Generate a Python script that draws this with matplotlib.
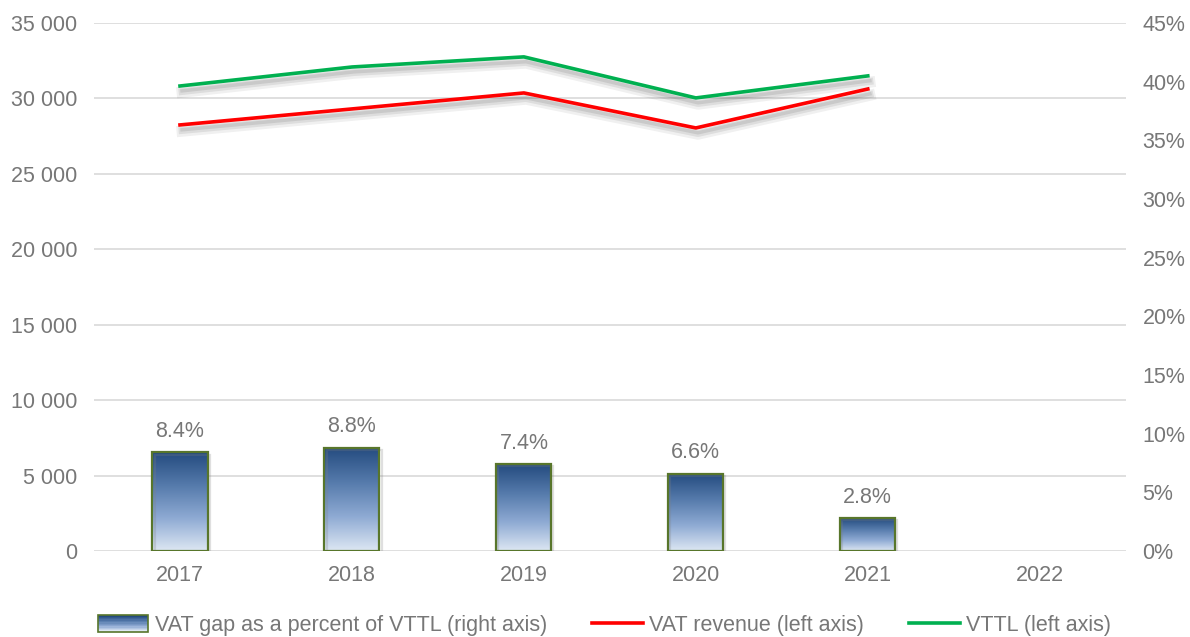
import numpy as np
import matplotlib.pyplot as plt
import matplotlib.patheffects as pe
from matplotlib.colors import LinearSegmentedColormap
from matplotlib.patches import Rectangle
from matplotlib.legend_handler import HandlerBase
from matplotlib.lines import Line2D
from matplotlib.ticker import FuncFormatter

plt.rcParams['font.family'] = ['Liberation Sans', 'DejaVu Sans']

years = ['2017', '2018', '2019', '2020', '2021', '2022']
vat_revenue = [28240, 29300, 30360, 28040, 30620]
vttl = [30820, 32080, 32750, 30030, 31490]
gap_pct = [8.4, 8.8, 7.4, 6.6, 2.8]

grey = '#777777'
edge = '#58762b'
cmap = LinearSegmentedColormap.from_list('bar', ['#dde7f3', '#8eaad3', '#557aab', '#244b7f'])


class GradientHandler(HandlerBase):
    def create_artists(self, legend, orig_handle, xdescent, ydescent, width, height, fontsize, trans):
        arts = []
        n = 12
        for i in range(n):
            r = Rectangle((-xdescent, -ydescent + height * i / n), width, height / n,
                          facecolor=cmap(i / (n - 1)), edgecolor='none', transform=trans)
            arts.append(r)
        arts.append(Rectangle((-xdescent, -ydescent), width, height, facecolor='none',
                              edgecolor=edge, linewidth=1.2, transform=trans))
        return arts


fig = plt.figure(figsize=(11.9, 6.37), dpi=100)
rect_ax = [0.079, 0.135, 0.867, 0.829]
ax = fig.add_axes(rect_ax)       # left axis: grid + ticks
ax2 = ax.twinx()                 # right axis: bars
ax3 = fig.add_axes(rect_ax, sharex=ax, sharey=ax)  # lines on top
ax3.axis('off')

x = np.arange(len(years))
ax.set_xlim(-0.5, len(years) - 0.5)
ax.set_ylim(0, 35000)
ax2.set_ylim(0, 45)

ax.set_yticks(np.arange(0, 35001, 5000))
ax.yaxis.set_major_formatter(FuncFormatter(lambda v, p: f'{int(v):,}'.replace(',', ' ')))
ax2.set_yticks(np.arange(0, 46, 5))
ax2.yaxis.set_major_formatter(FuncFormatter(lambda v, p: f'{int(v)}%'))
ax.grid(axis='y', color='#d9d9d9', linewidth=1.2)
ax.set_axisbelow(True)

for a in (ax, ax2):
    for s in a.spines.values():
        s.set_visible(False)
    a.tick_params(length=0, labelsize=15.5, colors=grey, pad=12)
ax.set_xticks(x)
ax.set_xticklabels(years)
ax.tick_params(axis='x', pad=10)

# gradient bars on the right axis
bw = 0.32
grad = np.linspace(0, 1, 256).reshape(-1, 1)
for i, v in enumerate(gap_pct):
    ax2.imshow(grad, cmap=cmap, origin='lower', aspect='auto',
               extent=[x[i] - bw / 2, x[i] + bw / 2, 0, v], zorder=2)
    rect = Rectangle((x[i] - bw / 2, 0), bw, v, facecolor='none', edgecolor=edge,
                     linewidth=1.6, zorder=3,
                     path_effects=[pe.SimpleLineShadow(offset=(1.5, -1.5), shadow_color='gray', alpha=0.25),
                                   pe.Normal()])
    ax2.add_patch(rect)
    ax2.text(x[i], v + 0.9, f'{v:.1f}%', ha='center', va='bottom', fontsize=15.5, color=grey)
ax2.set_xlim(-0.5, len(years) - 0.5)
ax2.set_ylim(0, 45)

shadow = [pe.SimpleLineShadow(offset=(1.5, -4.5), shadow_color='black', alpha=0.06, linewidth=8),
          pe.SimpleLineShadow(offset=(1.5, -4), shadow_color='black', alpha=0.08, linewidth=5),
          pe.SimpleLineShadow(offset=(1.5, -3.5), shadow_color='black', alpha=0.09, linewidth=2.5),
          pe.Normal()]
ax3.plot(x[:5], vat_revenue, color='#ff0000', linewidth=2.6, path_effects=shadow, zorder=4)
ax3.plot(x[:5], vttl, color='#00b050', linewidth=2.6, path_effects=shadow, zorder=4)
ax3.set_xlim(-0.5, len(years) - 0.5)
ax3.set_ylim(0, 35000)

bar_handle = Rectangle((0, 0), 1, 1)
fig.legend([bar_handle, Line2D([], [], color='#ff0000', linewidth=2.6),
            Line2D([], [], color='#00b050', linewidth=2.6)],
           ['VAT gap as a percent of VTTL (right axis)', 'VAT revenue (left axis)', 'VTTL (left axis)'],
           handler_map={Rectangle: GradientHandler()},
           loc='center', bbox_to_anchor=(0.508, 0.018), ncol=3, frameon=False,
           fontsize=15.5, labelcolor=grey, handlelength=2.35, handletextpad=0.3,
           columnspacing=2.1, handleheight=0.8)

fig.savefig('out.png', dpi=100)
